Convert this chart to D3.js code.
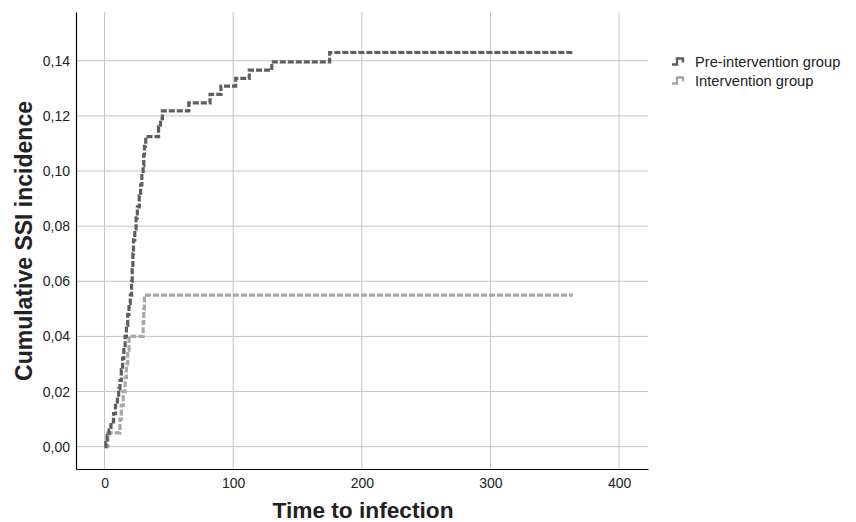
<!DOCTYPE html>
<html>
<head>
<meta charset="utf-8">
<script src="https://cdn.jsdelivr.net/npm/d3@7"></script>
<style>
  body { margin: 0; background: #fff; }
  text { font-family: "Liberation Sans", Arial, sans-serif; fill: #222; }
</style>
</head>
<body>
<svg id="chart" width="856" height="522"></svg>
<script>
// step points [days, cumulative incidence]
const preTimes  = [0, 1, 2, 3.5, 5, 7, 8.5, 10, 11, 12, 13, 14, 15, 16, 17, 18, 19, 20, 21, 21.5, 22, 22.5, 23.5, 24.5, 25.5, 27, 28, 29, 30, 30.5, 31, 32, 42, 43.5, 45, 65.5, 82, 90.5, 102, 112.5, 130, 175, 364];
const preValues = [0, 0.0015, 0.004, 0.006, 0.009, 0.012, 0.015, 0.018, 0.021, 0.024, 0.028, 0.032, 0.036, 0.040, 0.044, 0.048, 0.052, 0.055, 0.060, 0.065, 0.070, 0.075, 0.079, 0.083, 0.087, 0.091, 0.095, 0.099, 0.102, 0.106, 0.109, 0.1125, 0.116, 0.119, 0.1218, 0.1247, 0.1278, 0.1308, 0.1336, 0.1366, 0.1396, 0.143, 0.143];

const intTimes  = [0, 2.5, 12, 13, 14.5, 16, 17, 18, 19, 30, 30.5, 31, 364];
const intValues = [0, 0.005, 0.010, 0.015, 0.020, 0.025, 0.030, 0.035, 0.040, 0.045, 0.050, 0.055, 0.055];

const xTicks = [0, 100, 200, 300, 400];
const yTicks = [0, 0.02, 0.04, 0.06, 0.08, 0.10, 0.12, 0.14];
const groupNames = ["Pre-intervention group", "Intervention group"];
const groupColors = ["#5e5e5e", "#a8a8a8"];

const svg = d3.select("#chart");
const plotLeft = 76, plotRight = 648, plotTop = 12, plotBottom = 469;

const x = d3.scaleLinear().domain([-22.2, 422.5]).range([plotLeft, plotRight]);
const y = d3.scaleLinear().domain([-0.0081, 0.1577]).range([plotBottom, plotTop]);

const comma = d3.formatLocale({ decimal: ",", thousands: ".", grouping: [3], currency: ["", ""] }).format(".2f");

// grid
svg.append("g").selectAll("line").data(xTicks).enter().append("line")
    .attr("x1", d => x(d)).attr("x2", d => x(d))
    .attr("y1", plotTop).attr("y2", plotBottom)
    .attr("stroke", "#c4c4c4").attr("stroke-width", 1);
svg.append("g").selectAll("line").data(yTicks).enter().append("line")
    .attr("x1", plotLeft).attr("x2", plotRight)
    .attr("y1", d => y(d)).attr("y2", d => y(d))
    .attr("stroke", "#c4c4c4").attr("stroke-width", 1);

// axes (no tick marks, just lines + labels)
const xAxis = d3.axisBottom(x).tickValues(xTicks).tickSize(0).tickPadding(9);
const yAxis = d3.axisLeft(y).tickValues(yTicks).tickSize(0).tickPadding(6).tickFormat(comma);

const gx = svg.append("g").attr("transform", `translate(0,${plotBottom})`).call(xAxis);
const gy = svg.append("g").attr("transform", `translate(${plotLeft},0)`).call(yAxis);
[gx, gy].forEach(g => {
    g.select(".domain").attr("stroke", "#000").attr("stroke-width", 1.2);
    g.selectAll("text").style("font-size", "14px")
        .style("font-family", '"Liberation Sans", Arial, sans-serif').attr("fill", "#222");
});

// curves
const line = d3.line().x(d => x(d[0])).y(d => y(d[1])).curve(d3.curveStepAfter);
const series = [
    d3.zip(preTimes, preValues),
    d3.zip(intTimes, intValues)
];
// draw intervention first so pre group sits on top
[1, 0].forEach(i => {
    svg.append("path")
        .datum(series[i])
        .attr("d", line)
        .attr("fill", "none")
        .attr("stroke", groupColors[i])
        .attr("stroke-width", 3.2)
        .attr("stroke-dasharray", "6,2");
});

// axis titles
svg.append("text")
    .attr("x", 363).attr("y", 518)
    .attr("text-anchor", "middle")
    .style("font-size", "22.7px").style("font-weight", "bold")
    .text("Time to infection");
svg.append("text")
    .attr("transform", "translate(32,241) rotate(-90)")
    .attr("text-anchor", "middle")
    .style("font-size", "23px").style("font-weight", "bold")
    .text("Cumulative SSI incidence");

// legend
const legend = svg.append("g").attr("transform", "translate(672,61.5)");
groupNames.forEach((name, i) => {
    const g = legend.append("g").attr("transform", `translate(0,${i * 19})`);
    g.append("path")
        .attr("d", "M0,3 H5 V-3 H11 V1")
        .attr("fill", "none")
        .attr("stroke", groupColors[i])
        .attr("stroke-width", 2.4);
    g.append("text")
        .attr("x", 23).attr("y", 5.3)
        .style("font-size", "14.7px")
        .text(name);
});
</script>
</body>
</html>
